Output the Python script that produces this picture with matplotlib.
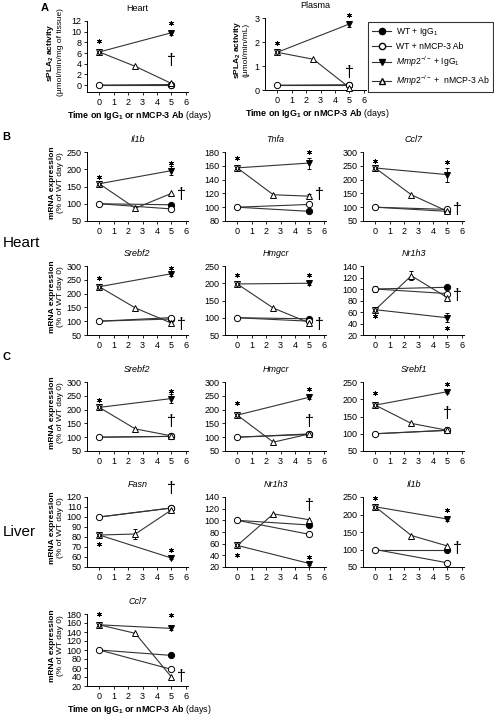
import numpy as np
import matplotlib
matplotlib.use("Agg")
import matplotlib.pyplot as plt
from matplotlib.lines import Line2D

plt.rcParams['font.family'] = ['Liberation Sans', 'DejaVu Sans']
plt.rcParams['mathtext.fontset'] = 'custom'
plt.rcParams['mathtext.rm'] = 'Liberation Sans'
plt.rcParams['mathtext.it'] = 'Liberation Sans:italic'
plt.rcParams['mathtext.bf'] = 'Liberation Sans:bold'

# ---- data (panel order: A heart, A plasma, B heart x6, C liver x7) ----
panel_titles = ["Heart", "Plasma", "Il1b", "Tnfa", "Ccl7", "Srebf2", "Hmgcr", "Nr1h3",
                "Srebf2", "Hmgcr", "Srebf1", "Fasn", "Nr1h3", "Il1b", "Ccl7"]
y_min = [-1.3, 0, 50, 80, 50, 50, 50, 20, 50, 50, 50, 50, 20, 50, 20]
y_max = [12, 3, 250, 180, 300, 300, 250, 140, 300, 300, 250, 120, 140, 250, 180]
y_step = [2, 1, 50, 20, 50, 50, 50, 20, 50, 50, 50, 10, 20, 50, 20]

wt_d0 = [0, 0.2, 100, 100, 100, 100, 100, 100, 100, 100, 100, 100, 100, 100, 100]
wt_igg_d5 = [0, 0.2, 97, 94, 85, 108, 97, 103, 103, 112, 110, 109, 92, 100, 88]
wt_ab_d5 = [0.1, 0.22, 85, 104, 92, 113, 90, 92, 103, 110, 110, 109, 76, 62, 57]
mmp_d0 = [6.2, 1.57, 158, 157, 242, 225, 198, 64, 208, 180, 183, 82, 57, 222, 156]
mmp_igg_d5 = [9.8, 2.75, 196, 164, 218, 272, 200, 50, 240, 245, 222, 59, 26, 187, 148]
mmp_ab_d2 = [3.5, 1.28, 87, 118, 145, 148, 128, 123, 130, 82, 130, 83, 111, 140, 137]
mmp_ab_d5 = [0.3, 0.1, 130, 116, 85, 93, 85, 85, 105, 112, 110, 107, 101, 110, 40]

wt_d0_err = [0, 0, 0, 3, 0, 0, 0, 5, 0, 0, 0, 0, 0, 0, 0]
mmp_d0_err = [0, 0, 0, 4, 0, 0, 0, 3, 0, 0, 0, 3, 0, 0, 0]
mmp_igg_d5_err = [0.4, 0.12, 12, 8, 25, 8, 5, 8, 15, 5, 5, 1, 2, 5, 3]
mmp_ab_d2_err = [0, 0, 0, 0, 0, 0, 0, 8, 0, 0, 0, 5, 0, 0, 0]
mmp_ab_d5_err = [0, 0, 0, 3, 0, 0, 0, 5, 0, 0, 0, 3, 0, 0, 0]

star_d0 = [8.3, 1.95, 178, 172, 268, 258, 225, 53, 235, 225, 218, 73, 40, 248, 180]
star_d5 = [11.6, 3.12, 218, 180, 265, 292, 225, 32, 268, 275, 243, 67, 38, 212, 178]
dagger_x = [5, 5, 5.7, 5.7, 5.7, 5.7, 5.7, 5.7, 5, 5, 5, 5, 5, 5.7, 5.7]
dagger_y = [4.6, 0.75, 128, 118, 90, 88, 80, 88, 158, 158, 158, 128, 125, 103, 40]

legend_labels = ["WT + IgG$_1$", "WT + nMCP-3 Ab",
                 r"$\mathit{Mmp2}^{-/-}$ + IgG$_1$", r"$\mathit{Mmp2}^{-/-}$ +  nMCP-3 Ab"]

# ---- layout in pixels ----
W, H = 494, 718
panel_left = [87, 265, 87, 225, 363, 87, 225, 363, 87, 225, 363, 87, 225, 363, 87]
panel_top = [21, 18, 152, 152, 152, 266, 266, 266, 382, 382, 382, 497, 497, 497, 614]
panel_bottom = [92, 90, 221, 221, 221, 335, 335, 335, 451, 451, 451, 567, 567, 567, 686]
panel_w = 101

LINE = '#333333'
TICK_FS = 6.5
LAB_FS = 6

fig = plt.figure(figsize=(W / 100, H / 100), dpi=100)


def px_rect(l, t, b):
    return [l / W, 1 - b / H, panel_w / W, (b - t) / H]


def marker(ax, x, y, err, m, face, ms):
    ax.errorbar([x], [y], yerr=[err] if err else None, fmt=m, mfc=face, mec='black',
                ms=ms, mew=0.7, ecolor='black', elinewidth=0.6, capsize=1.5,
                capthick=0.6, zorder=3, clip_on=False)


for i, title in enumerate(panel_titles):
    ax = fig.add_axes(px_rect(panel_left[i], panel_top[i], panel_bottom[i]))
    lkw = dict(color=LINE, lw=0.8, zorder=2)
    ax.plot([0, 5], [wt_d0[i], wt_igg_d5[i]], **lkw)
    ax.plot([0, 5], [wt_d0[i], wt_ab_d5[i]], **lkw)
    ax.plot([0, 5], [mmp_d0[i], mmp_igg_d5[i]], **lkw)
    ax.plot([0, 2.5, 5], [mmp_d0[i], mmp_ab_d2[i], mmp_ab_d5[i]], **lkw)

    marker(ax, 5, wt_igg_d5[i], 0, 'o', 'black', 4.5)
    marker(ax, 5, wt_ab_d5[i], 0, 'o', 'white', 4.5)
    marker(ax, 5, mmp_igg_d5[i], mmp_igg_d5_err[i], 'v', 'black', 5)
    marker(ax, 2.5, mmp_ab_d2[i], mmp_ab_d2_err[i], '^', 'white', 5)
    marker(ax, 5, mmp_ab_d5[i], mmp_ab_d5_err[i], '^', 'white', 5)
    marker(ax, 0, wt_d0[i], wt_d0_err[i], 'o', 'white', 4.5)
    marker(ax, 0, mmp_d0[i], mmp_d0_err[i], 'v', 'white', 5)
    marker(ax, 0, mmp_d0[i], 0, '^', 'none', 5)

    # significance marks
    ax.plot([0, 5], [star_d0[i], star_d5[i]], ls='none', marker=(6, 2, 0), ms=3.5,
            mew=0.6, color='black', clip_on=False)
    ax.text(dagger_x[i], dagger_y[i], '\u2020', fontsize=11.5, ha='center', va='center')

    ax.set_xlim(-0.85, 6.15)
    ax.set_ylim(y_min[i], y_max[i])
    start = np.ceil(y_min[i] / y_step[i]) * y_step[i]
    ax.set_yticks(np.arange(start, y_max[i] + y_step[i] / 2, y_step[i]))
    ax.set_xticks(range(7))
    for s in ['top', 'right']:
        ax.spines[s].set_visible(False)
    for s in ['left', 'bottom']:
        ax.spines[s].set_linewidth(0.7)
    ax.tick_params(direction='out', length=2.5, width=0.6, labelsize=TICK_FS, pad=1.5)

    if i < 2:
        ax.set_title(title, fontsize=6.5, pad=7)
    else:
        ax.set_title(title, fontsize=6.5, fontstyle='italic', pad=7)

    # x label under A panels and the last liver panel
    if i in (0, 1, 14):
        cx = (panel_left[i] + panel_w / 2 + 2) / W
        fig.text(cx, 1 - (panel_bottom[i] + 24) / H,
                 r"Time on IgG$_\mathbf{1}$ or nMCP-3 Ab $\mathrm{(days)}$",
                 fontsize=6.4, fontweight='bold', ha='center', va='center')

    cy = 1 - ((panel_top[i] + panel_bottom[i]) / 2 - 4) / H
    if i == 0:
        fig.text((panel_left[i] - 37) / W, cy, r"sPLA$_\mathbf{2}$ activity", rotation=90,
                 fontsize=LAB_FS, fontweight='bold', ha='center', va='center')
        fig.text((panel_left[i] - 27) / W, cy, "(\u00b5mol/min/mg of tissue)", rotation=90,
                 fontsize=LAB_FS, ha='center', va='center')
    elif i == 1:
        fig.text((panel_left[i] - 28) / W, cy, r"sPLA$_\mathbf{2}$ activity", rotation=90,
                 fontsize=LAB_FS, fontweight='bold', ha='center', va='center')
        fig.text((panel_left[i] - 19) / W, cy, "(\u00b5mol/min/mL)", rotation=90,
                 fontsize=LAB_FS, ha='center', va='center')
    elif panel_left[i] == 87:
        fig.text((panel_left[i] - 35) / W, cy, "mRNA expression", rotation=90,
                 fontsize=LAB_FS, fontweight='bold', ha='center', va='center')
        fig.text((panel_left[i] - 26) / W, cy, "(% of WT day 0)", rotation=90,
                 fontsize=LAB_FS, ha='center', va='center')

# legend
handles = [
    Line2D([], [], color=LINE, lw=0.8, marker='o', mfc='black', mec='black', ms=4.5),
    Line2D([], [], color=LINE, lw=0.8, marker='o', mfc='white', mec='black', ms=4.5),
    Line2D([], [], color=LINE, lw=0.8, marker='v', mfc='black', mec='black', ms=5),
    Line2D([], [], color=LINE, lw=0.8, marker='^', mfc='white', mec='black', ms=5),
]
leg = fig.legend(handles, legend_labels, loc='upper left', bbox_to_anchor=(368 / W, 1 - 22 / H),
                 frameon=True, fancybox=False, edgecolor='black', fontsize=6.2,
                 handlelength=2.2, borderpad=0.5, labelspacing=0.45, handletextpad=0.5,
                 borderaxespad=0)
leg.get_frame().set_linewidth(0.8)

# panel letters and row labels
fig.text(45 / W, 1 - 8 / H, 'A', fontsize=8, fontweight='bold', ha='center', va='center')
fig.text(6 / W, 1 - 137 / H, 'B', fontsize=8, fontweight='bold', ha='center', va='center')
fig.text(6 / W, 1 - 357 / H, 'C', fontsize=8, fontweight='bold', ha='center', va='center')
fig.text(3 / W, 1 - 243 / H, 'Heart', fontsize=11, ha='left', va='center')
fig.text(3 / W, 1 - 532 / H, 'Liver', fontsize=11, ha='left', va='center')

fig.savefig('out.png', dpi=100)
